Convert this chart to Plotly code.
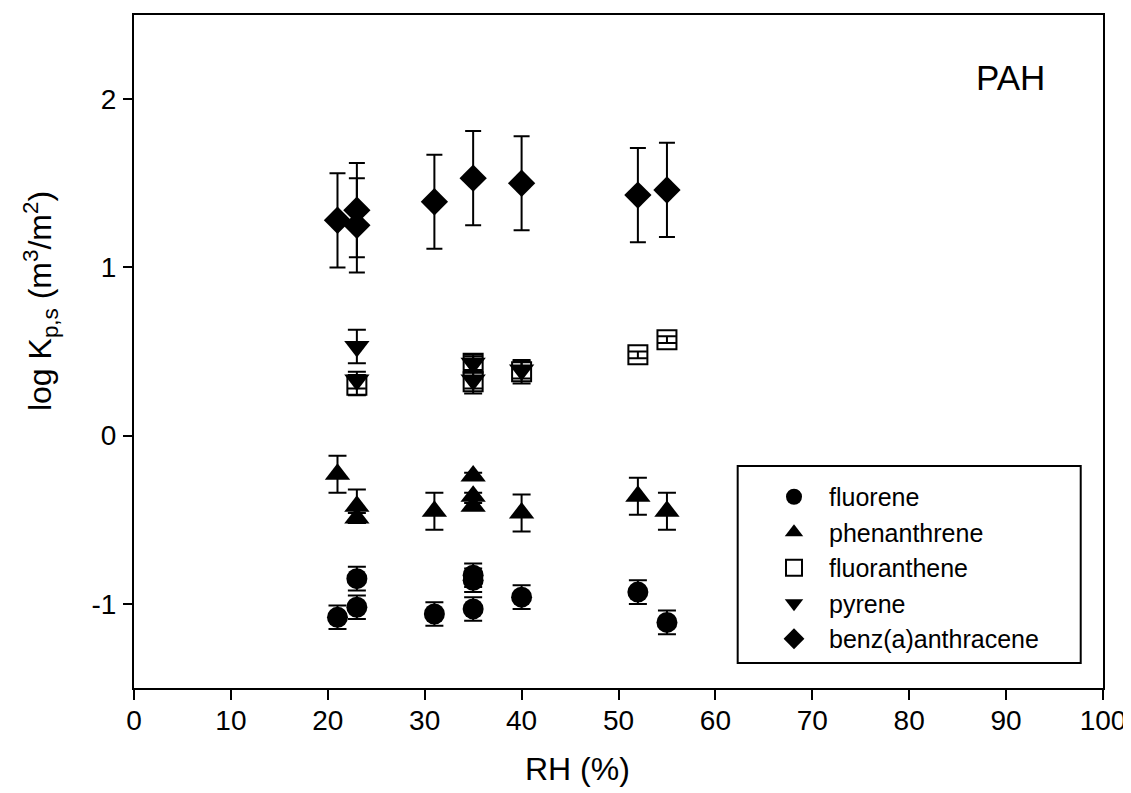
import plotly.graph_objects as go

# ---- data ----
fluorene_rh = [21, 23, 23, 31, 35, 35, 35, 40, 52, 55]
fluorene_logk = [-1.08, -1.02, -0.85, -1.06, -1.03, -0.83, -0.86, -0.96, -0.93, -1.11]
fluorene_err = [0.07, 0.07, 0.07, 0.07, 0.07, 0.07, 0.07, 0.07, 0.07, 0.07]

phen_rh = [21, 23, 23, 31, 35, 35, 35, 40, 52, 55]
phen_logk = [-0.23, -0.42, -0.49, -0.45, -0.24, -0.36, -0.42, -0.46, -0.36, -0.45]
phen_err = [0.11, 0.10, 0.03, 0.11, 0.02, 0.02, 0.02, 0.11, 0.11, 0.11]

fluoranthene_rh = [23, 35, 35, 40, 52, 55]
fluoranthene_logk = [0.30, 0.32, 0.43, 0.38, 0.48, 0.57]
fluoranthene_err = [0.06, 0.07, 0.04, 0.07, 0.02, 0.02]

pyrene_rh = [23, 23, 35, 35, 40]
pyrene_logk = [0.53, 0.33, 0.43, 0.33, 0.39]
pyrene_err = [0.10, 0.05, 0.05, 0.05, 0.05]

benz_rh = [21, 23, 23, 31, 35, 40, 52, 55]
benz_logk = [1.28, 1.34, 1.25, 1.39, 1.53, 1.50, 1.43, 1.46]
benz_err = [0.28, 0.28, 0.28, 0.28, 0.28, 0.28, 0.28, 0.28]

x_ticks = [0, 10, 20, 30, 40, 50, 60, 70, 80, 90, 100]
y_ticks = [-1, 0, 1, 2]

FONT = "Liberation Sans, Arial, Helvetica, sans-serif"

series = [
    ("fluorene", fluorene_rh, fluorene_logk, fluorene_err, "circle", 21, 9),
    ("phenanthrene", phen_rh, phen_logk, phen_err, "triangle-up", 22, 9),
    ("fluoranthene", fluoranthene_rh, fluoranthene_logk, fluoranthene_err, "square-open", 19, 9),
    ("pyrene", pyrene_rh, pyrene_logk, pyrene_err, "triangle-down", 22, 9),
    ("benz(a)anthracene", benz_rh, benz_logk, benz_err, "diamond", 21, 8),
]

fig = go.Figure()
for name, xs, ys, es, sym, size, capw in series:
    fig.add_trace(go.Scatter(
        x=xs, y=ys, mode="markers", name=name,
        marker=dict(symbol=sym, size=size, color="black",
                    line=dict(color="black", width=2 if sym.endswith("open") else 0)),
        error_y=dict(type="data", array=es, visible=True, color="black",
                     thickness=2, width=capw),
    ))

fig.update_layout(
    width=1123, height=785,
    margin=dict(l=126, r=28, t=5, b=105),
    paper_bgcolor="white", plot_bgcolor="white",
    font=dict(family=FONT, color="black", size=28),
    showlegend=True,
    legend=dict(x=0.645, y=0.318, xanchor="left", yanchor="top",
                bgcolor="rgba(0,0,0,0)", borderwidth=0, itemwidth=60,
                font=dict(size=25, family=FONT, color="black"),
                tracegroupgap=0),
    xaxis=dict(range=[0, 100], tickvals=x_ticks, ticktext=[str(v) for v in x_ticks],
               ticks="outside", ticklen=10, tickwidth=2, tickcolor="black",
               showline=True, linecolor="black", linewidth=2, mirror=True,
               showgrid=False, zeroline=False,
               tickfont=dict(size=28), ticklabelstandoff=-4),
    yaxis=dict(range=[-1.5, 2.5], tickvals=y_ticks, ticktext=[str(v) for v in y_ticks],
               ticks="outside", ticklen=9, tickwidth=2, tickcolor="black",
               showline=True, linecolor="black", linewidth=2, mirror=True,
               showgrid=False, zeroline=False,
               tickfont=dict(size=28), ticklabelstandoff=1),
    shapes=[dict(type="rect", xref="paper", yref="paper",
                 x0=0.623, x1=0.977, y0=0.037, y1=0.330,
                 line=dict(color="black", width=2), fillcolor="rgba(0,0,0,0)")],
    annotations=[
        dict(text="PAH", xref="paper", yref="paper", x=0.905, y=0.907,
             xanchor="center", yanchor="middle", showarrow=False,
             font=dict(size=35, family=FONT, color="black")),
        dict(text="RH (%)", xref="paper", yref="paper", x=0.458, y=-0.121,
             xanchor="center", yanchor="middle", showarrow=False,
             font=dict(size=32, family=FONT, color="black")),
        dict(text="log K<sub>p,s</sub> (m<sup>3</sup>/m<sup>2</sup>)",
             xref="paper", yref="paper", x=-0.097, y=0.575,
             xanchor="center", yanchor="middle", textangle=-90, showarrow=False,
             font=dict(size=32, family=FONT, color="black")),
    ],
)

fig.write_html("out.html")
